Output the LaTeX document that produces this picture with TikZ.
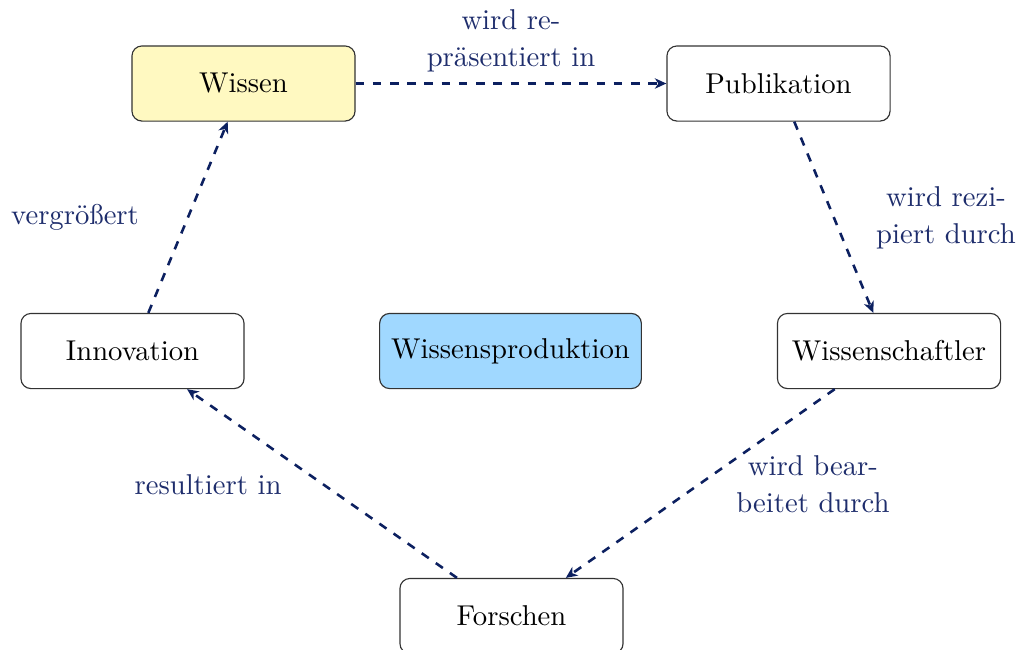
\documentclass[tikz,border=0pt]{standalone}
\usetikzlibrary{arrows.meta}
\definecolor{arrowblue}{RGB}{12,32,96}
\definecolor{labelblue}{RGB}{30,45,108}
\definecolor{wissenyellow}{RGB}{255,249,193}
\definecolor{prodblue}{RGB}{160,216,255}
\tikzset{
  box/.style={draw=black!80, thin, rounded corners=3.5pt, minimum width=77.8pt, minimum height=26.2pt, inner xsep=4pt, font=\fontsize{10}{12}\selectfont},
  conn/.style={draw=arrowblue, line width=0.9pt, dashed, -{Stealth[length=4pt,width=3.6pt,inset=1.2pt]}},
  lbl/.style={text=labelblue, align=center, font=\fontsize{10}{12.9}\selectfont, inner sep=0pt}
}
\begin{document}
\begin{tikzpicture}[x=0.3487pt,y=-0.3487pt]
\useasboundingbox (0,0) rectangle (1019,649);
\node[box, fill=wissenyellow] (wissen) at (243.5,83.5) {Wissen};
\node[box] (pub) at (778.5,83.5) {Publikation};
\node[box] (inno) at (132.5,351) {Innovation};
\node[box, fill=prodblue] (prod) at (510.5,351) {Wissensproduktion};
\node[box] (wiss) at (889,351) {Wissenschaftler};
\node[box] (forsch) at (511.5,616) {Forschen};

\draw[conn] (wissen) -- (pub);
\draw[conn] (pub) -- (wiss);
\draw[conn] (wiss) -- (forsch);
\draw[conn] (forsch) -- (inno);
\draw[conn] (inno) -- (wissen);

\node[lbl] (l1) at (511,41) {wird re-\\präsentiert in};
\node[lbl] (l2) at (946,218) {wird rezi-\\piert durch};
\node[lbl] (l3) at (813,484) {wird bear-\\beitet durch};
\node[lbl, anchor=base] (l4) at (208,494) {resultiert in};
\node[lbl, anchor=base] (l5) at (75,224) {vergrößert};
\end{tikzpicture}
\end{document}
